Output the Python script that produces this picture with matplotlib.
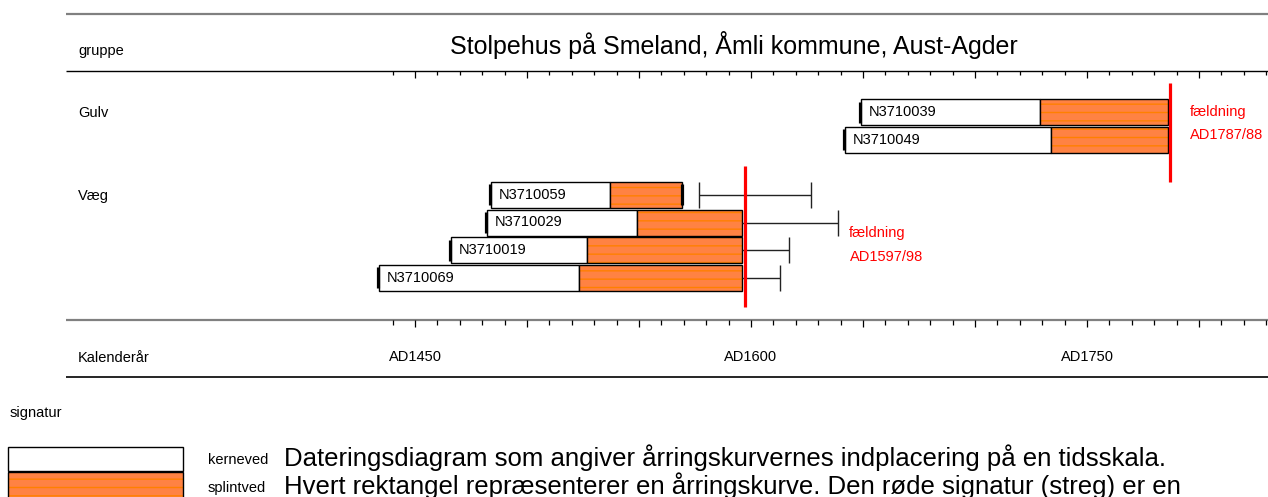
import matplotlib
matplotlib.use('Agg')
import matplotlib.pyplot as plt
from matplotlib.patches import Rectangle

plt.rcParams['font.family'] = ['Liberation Sans', 'DejaVu Sans']
plt.rcParams['hatch.linewidth'] = 1.0

title = 'Stolpehus på Smeland, Åmli kommune, Aust-Agder'

# Gulv: prøve, første år, splintved start, sidste år
gulv_ids = ['N3710039', 'N3710049']
gulv_start = [1649, 1642]
gulv_splint = [1729, 1734]
gulv_end = [1786, 1786]
gulv_felling = 1787
gulv_felling_txt = 'AD1787/88'

# Væg
vaeg_ids = ['N3710059', 'N3710029', 'N3710019', 'N3710069']
vaeg_start = [1484, 1482, 1466, 1434]
vaeg_splint = [1537, 1549, 1527, 1523]
vaeg_end = [1569, 1596, 1596, 1596]
# estimeret manglende splintved (fra, til)
vaeg_est_from = [1577, 1596, 1596, 1596]
vaeg_est_to = [1627, 1639, 1617, 1613]
vaeg_felling = 1597.5
vaeg_felling_txt = 'AD1597/98'

tick_years = list(range(1440, 1831, 10))
label_years = [1450, 1600, 1750]

caption = ['Dateringsdiagram som angiver årringskurvernes indplacering på en tidsskala.',
           'Hvert rektangel repræsenterer en årringskurve. Den røde signatur (streg) er en']

KERNE = 'white'
SPLINT = '#FF8243'
SPLINT_STRIPE = '#FF8000'
RED = '#FF0000'

W, H = 1268, 497
fig = plt.figure(figsize=(W / 100, H / 100), dpi=100)

# pixel axes for layout (lines, texts, legend)
axp = fig.add_axes([0, 0, 1, 1])
axp.set_xlim(0, W)
axp.set_ylim(H, 0)
axp.axis('off')

# data axes: x = calendar year, y = pixel row
ax = fig.add_axes([0, 0, 1, 1])
ax.patch.set_alpha(0)
px0, yr0, ppy = 415, 1450, 2.24   # AD1450 at x=415, 2.24 px per year
ax.set_xlim(yr0 - px0 / ppy, yr0 + (W - px0) / ppy)
ax.set_ylim(H, 0)
ax.axis('off')

# frame lines
axp.hlines(14, 66, W, color='#808080', lw=1.6)
axp.hlines(71, 66, W, color='black', lw=1.0)
axp.hlines(319.5, 66, W, color='#808080', lw=1.6)
axp.hlines(377, 66, W, color='black', lw=1.2)

axp.text(78, 51, 'gruppe', fontsize=10.5, va='center')
axp.text(734, 45, title, fontsize=18, ha='center', va='center')
axp.text(78, 113, 'Gulv', fontsize=10.5, va='center')
axp.text(78, 196, 'Væg', fontsize=10.5, va='center')
axp.text(78, 358, 'Kalenderår', fontsize=10.5, va='center')

# year ticks, top and bottom scale
for y in tick_years:
    major = y % 50 == 0
    ax.vlines(y, 71, 71 + (6.5 if major else 4), color='black', lw=0.9)
    ax.vlines(y, 320, 320 + (7 if major else 4.5), color='black', lw=0.9)
for y in label_years:
    ax.text(y, 357, f'AD{y}', fontsize=10.5, ha='center', va='center')

bar_h = 26


def draw_bar(name, start, splint, end, yc, right_mark=False):
    ax.add_patch(Rectangle((start, yc - bar_h / 2), splint - start, bar_h,
                           facecolor=KERNE, edgecolor='black', lw=1))
    ax.add_patch(Rectangle((splint, yc - bar_h / 2), end - splint, bar_h,
                           facecolor=SPLINT, edgecolor=SPLINT_STRIPE,
                           hatch='--', lw=0))
    ax.add_patch(Rectangle((splint, yc - bar_h / 2), end - splint, bar_h,
                           fill=False, edgecolor='black', lw=1))
    ax.vlines(start - 0.45, yc - 10.5, yc + 10.5, color='black', lw=2.3)
    if right_mark:
        ax.vlines(end, yc - 10.5, yc + 10.5, color='black', lw=2.3)
    ax.text(start + 3.6, yc, name, fontsize=10.5, va='center')


gulv_y = [112, 139.7]
for i in range(len(gulv_ids)):
    draw_bar(gulv_ids[i], gulv_start[i], gulv_splint[i], gulv_end[i], gulv_y[i])
ax.vlines(gulv_felling, 83, 182, color=RED, lw=2.3)

vaeg_y = [194.8, 222.5, 250.3, 277.9]
for i in range(len(vaeg_ids)):
    draw_bar(vaeg_ids[i], vaeg_start[i], vaeg_splint[i], vaeg_end[i], vaeg_y[i],
             right_mark=(i == 0))
    yc = vaeg_y[i]
    ax.hlines(yc, vaeg_est_from[i], vaeg_est_to[i], color='#222222', lw=1)
    ax.vlines(vaeg_est_to[i], yc - bar_h / 2, yc + bar_h / 2, color='#222222', lw=1)
    if vaeg_est_from[i] > vaeg_end[i]:
        ax.vlines(vaeg_est_from[i], yc - bar_h / 2, yc + bar_h / 2, color='#222222', lw=1)
ax.vlines(vaeg_felling, 166, 307, color=RED, lw=2.3)

# felling labels
axp.text(1190, 112, 'fældning', color=RED, fontsize=10.5, va='center')
axp.text(1190, 135, gulv_felling_txt, color=RED, fontsize=10.5, va='center')
axp.text(849, 233, 'fældning', color=RED, fontsize=10.5, va='center')
axp.text(850, 257, vaeg_felling_txt, color=RED, fontsize=10.5, va='center')

# signatur / legend
axp.text(10, 413, 'signatur', fontsize=10.5, va='center')
axp.add_patch(Rectangle((8, 447), 175, 24, facecolor=KERNE, edgecolor='black', lw=1))
axp.add_patch(Rectangle((8, 472), 175, 30, facecolor=SPLINT, edgecolor=SPLINT_STRIPE,
                        hatch='--', lw=0))
axp.add_patch(Rectangle((8, 472), 175, 30, fill=False, edgecolor='black', lw=1))
axp.text(208, 460, 'kerneved', fontsize=10.5, va='center')
axp.text(208, 488, 'splintved', fontsize=10.5, va='center')

axp.text(284, 466, caption[0], fontsize=18.5, va='baseline')
axp.text(284, 494, caption[1], fontsize=18.5, va='baseline')

fig.savefig('out.png', dpi=100)
